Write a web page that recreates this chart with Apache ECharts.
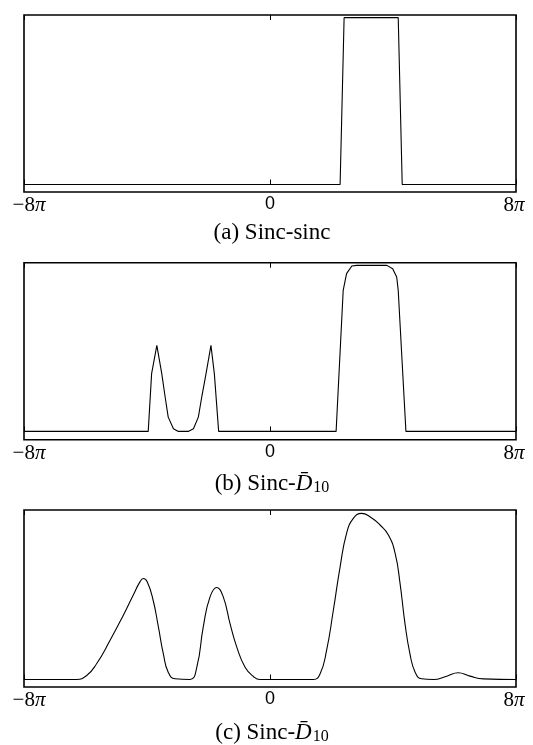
<!DOCTYPE html>
<html>
<head>
<meta charset="utf-8">
<script src="https://cdn.jsdelivr.net/npm/echarts@6/dist/echarts.min.js"></script>
<style>
  html, body { margin: 0; padding: 0; background: #fff; }
  #chart { width: 533px; height: 745px; }
</style>
</head>
<body>
<div id="chart"></div>
<script>
// x in units of pi
const xA = [-8, 2.28, 2.41, 4.17, 4.30, 8]
const yA = [0, 0, 1, 1, 0, 0]

const xB = [-8, -3.96, -3.85, -3.68, -3.52, -3.41, -3.31, -3.14, -2.98, -2.66, -2.49, -2.33, -2.22, -2.08, -1.92, -1.81, -1.67,
  2.15, 2.38, 2.49, 2.66, 2.82, 3.80, 3.99, 4.12, 4.17, 4.42, 8]
const yB = [0, 0, 0.348, 0.518, 0.348, 0.207, 0.086, 0.016, 0, 0, 0.016, 0.086, 0.207, 0.348, 0.518, 0.348, 0,
  0, 0.849, 0.95, 0.996, 1, 1, 0.98, 0.93, 0.849, 0, 0]

const xC = [-8, -6.29, -5.96, -5.64, -5.20, -4.77, -4.45, -4.23, -4.12, -3.99, -3.80, -3.63, -3.47, -3.31, -3.09,
  -2.60, -2.38, -2.17, -1.95, -1.73, -1.52, -1.30, -1.08, -0.81, -0.54, -0.33,
  1.41, 1.63, 1.84, 2.06, 2.28, 2.49, 2.71, 2.98, 3.25, 3.58, 3.85, 4.07, 4.23, 4.39, 4.55, 4.72, 4.93,
  5.31, 5.75, 6.12, 6.50, 6.94, 8]
const yC = [0, 0, 0.024, 0.094, 0.235, 0.385, 0.505, 0.585, 0.605, 0.585, 0.475, 0.315, 0.155, 0.044, 0.004,
  0, 0.074, 0.315, 0.495, 0.551, 0.495, 0.335, 0.194, 0.074, 0.018, 0,
  0, 0.034, 0.174, 0.415, 0.675, 0.876, 0.966, 0.996, 0.976, 0.926, 0.866, 0.756, 0.575, 0.335, 0.155, 0.044, 0.004,
  0, 0.020, 0.040, 0.020, 0.004, 0]

const xTicks = [-8, 0, 8]
const tickText = {
  '-8': '{mn|\u22128}{p|\u03c0}',
  '0': '{s|0}',
  '8': '{m|8}{pr|\u03c0}'
}

const serif = '"Liberation Serif", "DejaVu Serif", serif'
const tops = [15, 262.7, 510]
const boxH = 177

const pairs = (xs, ys) => xs.map((x, i) => [x, ys[i]])

const grids = tops.map(t => ({
  left: 24, right: 17, top: t, height: boxH,
  show: true, borderColor: '#000', borderWidth: 1.6, backgroundColor: 'transparent'
}))

const tickStyle = { show: true, inside: true, length: 5, lineStyle: { color: '#000', width: 1 } }
const xAxes = []
tops.forEach((t, i) => {
  xAxes.push({
    type: 'value', gridIndex: i, min: xTicks[0], max: xTicks[2], interval: 8,
    axisLine: { show: false },
    axisTick: tickStyle,
    splitLine: { show: false },
    axisLabel: {
      margin: 3,
      formatter: v => tickText[String(v)],
      rich: {
        mn: { fontFamily: serif, fontSize: 21, color: '#000', padding: [0, 0, 0, 10] },
        m: { fontFamily: serif, fontSize: 21, color: '#000' },
        p: { fontFamily: serif, fontSize: 21, fontStyle: 'italic', color: '#000' },
        pr: { fontFamily: serif, fontSize: 21, fontStyle: 'italic', color: '#000', padding: [0, 4, 0, 0] },
        s: { fontFamily: '"Liberation Sans", Arial, sans-serif', fontSize: 18, color: '#000' }
      }
    }
  })
  xAxes.push({
    type: 'value', gridIndex: i, position: 'top', min: -8, max: 8, interval: 8,
    axisLine: { show: false },
    axisTick: tickStyle,
    splitLine: { show: false },
    axisLabel: { show: false }
  })
})

const yAxes = tops.map((t, i) => ({
  type: 'value', gridIndex: i, min: i === 1 ? -0.05 : -0.045, max: 1.016,
  show: false
}))

const seriesData = [pairs(xA, yA), pairs(xB, yB), pairs(xC, yC)]
const series = seriesData.map((d, i) => ({
  type: 'line', xAxisIndex: i * 2, yAxisIndex: i, data: d,
  symbol: 'none', smooth: i === 2 ? 0.5 : false,
  lineStyle: { color: '#000', width: 1.1 }
}))

const captionRich = {
  n: { fontFamily: serif, fontSize: 23, fontWeight: 'normal', color: '#000' },
  d: { fontFamily: serif, fontSize: 23, fontWeight: 'normal', fontStyle: 'italic', color: '#000' },
  sub: { fontFamily: serif, fontSize: 16, fontWeight: 'normal', color: '#000', padding: [9, 0, 0, 1] }
}
const captions = [
  '{n|(a) Sinc-sinc}',
  '{n|(b) Sinc-}{d|D\u0304}{sub|10}',
  '{n|(c) Sinc-}{d|D\u0304}{sub|10}'
]
const captionY = [216, 466, 715]

const title = captions.map((c, i) => ({
  text: c, left: 267, top: captionY[i], textAlign: 'center',
  textStyle: { fontWeight: 'normal', rich: captionRich }
}))

const chart = echarts.init(document.getElementById('chart'))
chart.setOption({
  animation: false,
  backgroundColor: '#fff',
  title: title,
  grid: grids,
  xAxis: xAxes,
  yAxis: yAxes,
  series: series
})
window.addEventListener('resize', function () {
  chart && chart.resize()
})
</script>
</body>
</html>
